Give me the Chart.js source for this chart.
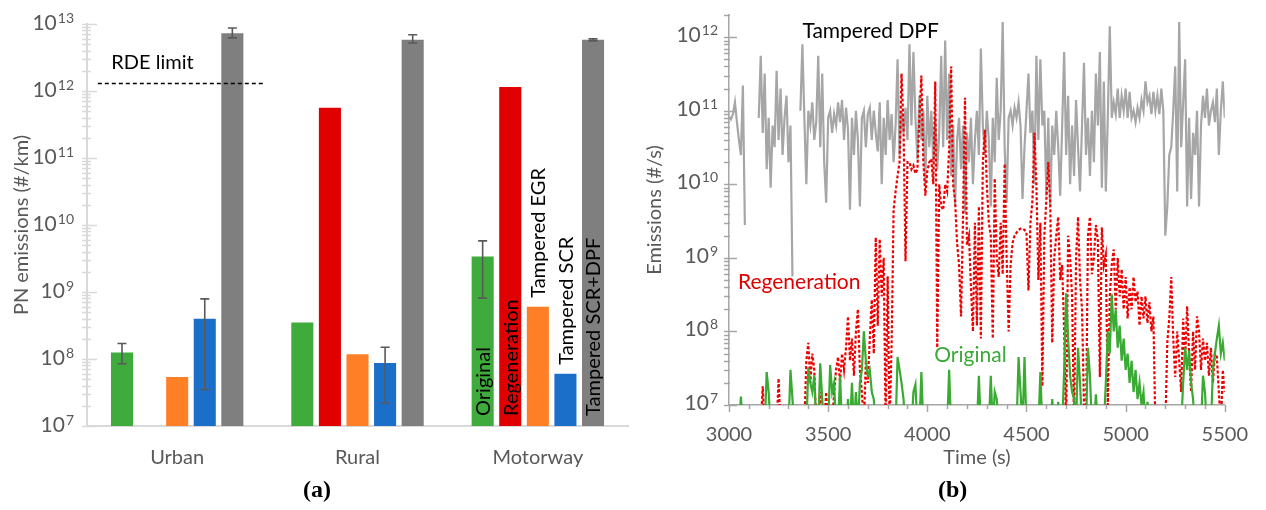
<!DOCTYPE html>
<html><head><meta charset="utf-8">
<script src="https://cdn.jsdelivr.net/npm/chart.js@4.4.1/dist/chart.umd.min.js"></script>
<style>
html,body{margin:0;padding:0;background:#fff;width:1266px;height:510px;overflow:hidden;position:relative;}
#wa{position:absolute;left:0;top:0;width:632px;height:510px;}
#wb{position:absolute;left:632px;top:0;width:634px;height:510px;}
.lab{position:absolute;top:475px;font:bold 24px "Liberation Serif","DejaVu Serif",serif;color:#000;line-height:28px;}
</style></head><body>
<div id="wa"><canvas id="ca"></canvas></div>
<div id="wb"><canvas id="cb"></canvas></div>
<div class="lab" style="left:303px">(a)</div>
<div class="lab" style="left:938px">(b)</div>
<script>
// ---------- Panel (a) data ----------
const regions = ['Urban', 'Rural', 'Motorway'];
const original       = [1.25e8, 3.5e8, 3.4e9];
const regeneration   = [null, 5.6e11, 1.15e12];
const tamperedEGR    = [5.4e7, 1.18e8, 6.0e8];
const tamperedSCR    = [4.0e8, 8.7e7, 6.0e7];
const tamperedSCRDPF = [7.3e12, 5.8e12, 5.8e12];
const originalLow  = [8.5e7, null, 8.1e8];
const originalHigh = [1.7e8, null, 5.8e9];
const scrLow  = [3.5e7, 2.2e7, null];
const scrHigh = [7.9e8, 1.5e8, null];
const scrDpfLow  = [6.2e12, 5.2e12, 5.6e12];
const scrDpfHigh = [8.7e12, 6.9e12, 6.0e12];
const rdeLimit = 1.3e12;
const seriesNamesA = ['Original', 'Regeneration', 'Tampered EGR', 'Tampered SCR', 'Tampered SCR+DPF'];
const yTickExpA = ['7', '8', '9', '10', '11', '12', '13'];

// ---------- Panel (b) data (sampled every 10 s from 3000 s) ----------
const tStart = 3000, tStep = 10;
const tamperedDPF = [
8.3e10,7.6e10,9e10,1.3e11,7e10,4e10,2.5e10,2.2e11,2.8e9,null,
null,null,null,null,null,8e10,5.6e11,5e10,3.2e11,1.6e10,
8e10,9e9,6.3e10,3.2e10,3.5e11,4e10,2e11,2.5e10,8e10,1.6e11,
2e10,6.3e10,5.6e8,null,null,null,1e11,8e11,8e10,1e10,
1e11,6.3e10,1.3e11,4e10,7e10,5.6e11,3.2e10,3.2e11,2e10,5.6e9,
8e10,1e11,5e10,9e10,6.3e10,1.3e11,7e10,1.4e11,4e10,1.1e11,
5.6e10,4.5e9,8e10,2.5e10,1e11,4e10,5e9,8e10,1e11,3.2e10,
9e10,1.1e11,4e10,1e11,5e10,2.8e10,1.3e11,1e10,8e10,2.5e10,
1.4e11,4e10,9e10,2e10,6.3e10,5e11,2.5e10,1e11,5e10,1.1e11,
4e10,8e11,6.3e10,6.3e11,8e10,2.2e10,1.6e11,4e10,1e11,1e10,
1.6e11,3.2e10,1e11,2e10,8e10,1.6e10,5e10,5.6e11,3.2e10,9e11,
4e10,3.2e11,1.3e10,6.3e10,5e9,4e10,8e10,1.6e10,6.3e10,4e9,
5e10,2e10,8e10,1e10,4e10,1e11,2.5e10,7e11,6.3e10,2.5e10,
1e11,4e10,5e9,8e10,2e10,2.8e11,4e10,1e11,1.6e12,3.2e10,
5.6e9,8e10,1e11,6.3e10,1.1e11,8e10,1.3e11,6.3e10,6.3e9,3.2e10,
1e11,3.2e11,5e10,1e11,1e10,5.6e11,4e10,5e11,6.3e10,1e11,
7e9,8e10,5e9,6.3e10,2.5e10,1e11,3.2e10,7e9,6.3e10,6.3e11,
2.5e10,1.6e11,1e10,6.3e10,1.3e10,1.4e11,3.2e10,8e9,6.3e10,4.5e11,
2.5e10,8e10,1.3e10,1e11,2e10,3.2e11,6.3e10,6.3e11,9e9,2.5e11,
8e9,8e10,1.4e12,8e10,1.3e11,9e10,2e11,8e10,1.6e11,1e11,
2e11,8e10,1.8e11,8e10,1e11,7e10,1.1e11,8e10,1.4e11,1e11,
2.5e11,1.3e11,1.6e11,9e10,1.8e11,1e11,1.6e11,9e10,2e11,1e11,
2e9,5e9,2.5e10,3.2e10,1e11,4e11,8e9,1.6e12,3.2e10,1.3e11,
5e11,5e9,8e10,6.3e9,5e10,2.5e10,1e11,5e9,6.3e10,1.6e11,
8e10,2e11,6.3e10,1e11,1.3e11,7e10,2e11,2.5e10,1e11,2.5e11,
8e10];
const regenerationTs = [
5e6,5e6,5e6,5e6,5e6,5e6,5e6,5e6,5e6,5e6,
5e6,5e6,5e6,5e6,5e6,5e6,5e6,1.8e7,5e6,5e6,
5e6,5e6,5e6,5e6,5e6,2.3e7,5e6,5e6,5e6,5e6,
5e6,5e6,5e6,5e6,5e6,5e6,5e6,5e6,5e6,4e7,
7e7,2e7,5e7,3e7,5e6,5e6,1.5e7,5e6,5e6,1.5e7,
5e6,5e6,5e6,1.5e7,3e7,4.5e7,2e7,5e7,3e7,6e7,
1.6e8,4e7,8e7,2.5e7,1e8,2e8,3e7,1.5e7,5e6,4e7,
2e7,8e7,2.7e8,5e7,1.9e9,1.2e8,1.8e9,3e8,1e9,5e6,
5.6e8,5e6,7e7,4.5e9,8e9,1.3e10,2e10,3.2e11,6e10,9e8,
2e10,2e10,1.6e10,1.8e10,1.4e10,1.6e10,8e10,3e11,2e10,7e9,
1.5e10,2e10,2.2e10,1e10,2.5e11,6e7,1e10,5e9,4.5e9,1e10,
8e9,3e10,4e11,1e10,6e9,1.6e9,8e8,1.6e8,3.6e9,1.5e11,
1.5e9,2e9,4e8,1e8,3e9,1.2e8,5e9,8e7,2e10,5.5e10,
1e10,3e9,2e9,8e7,1.2e10,1e9,5.5e8,3e9,6e8,1.9e10,
1e9,1e8,8e8,1.6e9,2e9,2.2e9,2.4e9,2.5e9,2.5e9,2.4e9,
2.2e9,3.6e8,3e9,6e9,5e10,1e10,5e8,3e9,1.8e7,2e9,
6e9,2e10,5e9,7e7,1e9,2e9,3.6e9,5e8,8e8,1e8,
5e6,2e9,1e9,3e8,5e6,1e9,3.6e9,5e8,2e8,1e7,
5e6,2e9,3.6e9,6e8,1e9,2.8e9,1.7e9,2.4e7,2.6e9,8e8,
1.1e9,1e7,3e8,8e8,1.3e9,2e8,1e9,3e8,7e8,2e8,
5.5e8,1.5e8,4e8,2e8,5.5e8,2.5e8,3.5e8,1.2e8,3e8,1.5e8,
3e8,1.3e8,2.5e8,1e8,1.6e8,5e6,5e6,5e6,5e6,5e6,
5e6,7e7,1.5e8,5.5e8,8e7,2.4e7,1e8,4e7,1.5e7,1.5e8,
4e7,2.2e8,5e7,1.5e7,1e8,3e7,1.6e8,1e8,3e7,8e7,
4e7,7e7,2.5e7,6e7,2e7,5e7,4.5e7,1.5e7,5e6,3e7,
1.5e7];
const originalTs = [
5e6,5e6,5e6,5e6,5e6,5e6,1.3e7,5e6,5e6,5e6,
5e6,5e6,5e6,5e6,5e6,5e6,5e6,5e6,5e6,2.8e7,
1.5e7,5e6,5e6,5e6,5e6,5e6,5e6,5e6,5e6,5e6,
5e6,3e7,1.2e7,5e6,5e6,5e6,5e6,5e6,5e6,5e6,
3.2e7,2e7,1.5e7,2.5e7,5e6,5e6,3.7e7,1.2e7,5e6,5e6,
5e6,3.5e7,1.5e7,2e7,5e6,5e6,2.5e7,5e6,5e6,5e6,
1.2e7,5e6,2e7,5e6,1.5e7,5e6,2e7,3e7,1e8,4e7,
2.5e7,3e7,1.5e7,1.2e7,5e6,5e6,5e6,5e6,5e6,5e6,
5e6,5e6,5e6,5e6,5e6,4.5e7,3e7,2e7,1.2e7,5e6,
5e6,5e6,5e6,1.5e7,1.9e7,5e6,5e6,2.8e7,5e6,5e6,
5e6,5e6,5e6,5e6,5e6,5e6,5e6,5e6,5e6,5e6,
5e6,3e7,5e6,5e6,5e6,5e6,5e6,5e6,5e6,5e6,
5e6,5e6,5e6,5e6,5e6,5e6,2.5e7,5e6,5e6,5e6,
5e6,5e6,2.5e7,5e6,1.5e7,1.2e7,5e6,5e6,5e6,5e6,
5e6,5e6,5e6,5e6,5e6,5e6,4.5e7,1.5e7,5e6,4.5e7,
5e6,5e6,5e6,5e6,5e6,5e6,5e6,2.8e7,5e6,5e6,
5e6,5e6,5e6,1.2e7,5e6,5e6,1.1e7,5e6,5e6,3e7,
3.3e8,8e7,2.5e7,1.5e7,1.2e7,5e6,6e7,2e7,5e6,5e6,
5e6,6e7,2.5e7,5e6,5e6,1.4e7,5e6,5e6,5e6,5e6,
2e7,1e8,5e7,3.2e8,1e8,2e8,6e7,1.2e8,4e7,8e7,
3e7,5e7,2e7,4e7,1.5e7,3e7,1.2e7,2e7,1e7,1.5e7,
5e6,1.1e7,5e6,5e6,5e6,5e6,5e6,5e6,5e6,5e6,
5e6,5e6,5e6,5e6,5e6,5e6,5e6,5e6,5e6,2e7,
6e7,3e7,5.5e7,2e7,1.2e7,5e6,5e6,5e6,5e6,2.5e7,
1.5e7,5e6,5e6,5e6,3e7,5e7,8e7,1.2e8,5e7,7e7,
4e7];
const xTickValuesB = [3000, 3500, 4000, 4500, 5000, 5500];
const xTickLabelsB = ['3000', '3500', '4000', '4500', '5000', '5500'];
const yTickExpB = ['7', '8', '9', '10', '11', '12'];

// ---------- helpers ----------
const FONT = 'Lato';
const TXT = '#595959';
const isPow10 = v => Math.abs(Math.log10(v) - Math.round(Math.log10(v))) < 1e-9;
function logTicks(scale, e0, e1, top) {
  const t = [];
  for (let e = e0; e <= e1; e++) for (let m = 1; m <= 9; m++) {
    const v = m * Math.pow(10, e);
    if (v <= top * 1.0000001) t.push({value: v});
  }
  scale.ticks = t;
}
const toPoints = arr => arr.map((v, i) => ({x: tStart + i * tStep, y: v}));

const tickMarks = {
  id: 'tickMarks',
  afterDraw(chart, args, o) {
    const ctx = chart.ctx, y = chart.scales.y, x = chart.scales.x;
    ctx.save();
    ctx.strokeStyle = o.color; ctx.lineWidth = o.width;
    const ax = y.right;
    y.ticks.forEach(t => {
      const p = Math.round(y.getPixelForValue(t.value)) + 0.5;
      const maj = isPow10(t.value);
      ctx.beginPath(); ctx.moveTo(ax - o.yOut, p); ctx.lineTo(ax + (maj ? o.yMajIn : o.yMinIn), p); ctx.stroke();
      if (maj) {
        // "10" with a raised exponent
        const ex = o.exps[Math.round(Math.log10(t.value)) - 7];
        const right = ax - o.labelGap;
        ctx.fillStyle = TXT; ctx.textBaseline = 'alphabetic'; ctx.textAlign = 'right';
        ctx.font = o.expSize + 'px ' + FONT;
        const ew = ctx.measureText(ex).width;
        ctx.fillText(ex, right, p + o.baseShift - o.expRaise);
        ctx.font = o.baseSize + 'px ' + FONT;
        ctx.fillText('10', right - ew - 1, p + o.baseShift);
      }
    });
    if (o.xTicks) {
      const ay = x.top;
      x.ticks.forEach(t => {
        const p = Math.round(x.getPixelForValue(t.value)) + 0.5;
        const maj = xTickValuesB.includes(t.value);
        ctx.beginPath(); ctx.moveTo(p, ay); ctx.lineTo(p, ay + (maj ? o.xMaj : o.xMin)); ctx.stroke();
      });
    }
    ctx.restore();
  }
};

const barExtras = {
  id: 'barExtras',
  afterDatasetsDraw(chart) {
    const {ctx, scales: {x, y}} = chart;
    ctx.save();
    ctx.strokeStyle = '#595959'; ctx.lineWidth = 1.6;
    [[0, originalLow, originalHigh], [3, scrLow, scrHigh], [4, scrDpfLow, scrDpfHigh]].forEach(([di, lo, hi]) => {
      const meta = chart.getDatasetMeta(di);
      lo.forEach((l, i) => {
        if (l == null) return;
        const bx = meta.data[i].x, y1 = y.getPixelForValue(l), y2 = y.getPixelForValue(hi[i]);
        ctx.beginPath();
        ctx.moveTo(bx, y1); ctx.lineTo(bx, y2);
        ctx.moveTo(bx - 4.5, y1); ctx.lineTo(bx + 4.5, y1);
        ctx.moveTo(bx - 4.5, y2); ctx.lineTo(bx + 4.5, y2);
        ctx.stroke();
      });
    });
    const step = x.getPixelForValue(1) - x.getPixelForValue(0);
    const x0 = x.getPixelForValue(0);
    const yr = Math.round(y.getPixelForValue(rdeLimit)) + 0.5;
    ctx.strokeStyle = '#000'; ctx.lineWidth = 1.3; ctx.setLineDash([4, 3]);
    ctx.beginPath(); ctx.moveTo(x0 - 0.44 * step, yr); ctx.lineTo(x0 + 0.49 * step, yr); ctx.stroke();
    ctx.setLineDash([]);
    ctx.fillStyle = '#000'; ctx.font = '20px ' + FONT; ctx.textBaseline = 'middle'; ctx.textAlign = 'left';
    ctx.fillText('RDE limit', x0 - 0.365 * step, y.getPixelForValue(2.7e12));
    const placement = ['base', 'base', 'top', 'top', 'base'];
    const yBase = y.getPixelForValue(1e7);
    seriesNamesA.forEach((name, di) => {
      const bar = chart.getDatasetMeta(di).data[2];
      const sy = placement[di] === 'base' ? yBase - 10 : bar.y - 9;
      ctx.save();
      ctx.translate(bar.x + 1, sy);
      ctx.rotate(-Math.PI / 2);
      ctx.fillStyle = '#000'; ctx.font = '20px ' + FONT; ctx.textAlign = 'left'; ctx.textBaseline = 'middle';
      ctx.fillText(name, 0, 0);
      ctx.restore();
    });
    ctx.restore();
  }
};

const seriesTextB = {
  id: 'seriesTextB',
  afterDatasetsDraw(chart) {
    const {ctx, scales: {x, y}} = chart;
    ctx.save();
    ctx.font = '21px ' + FONT; ctx.textAlign = 'left'; ctx.textBaseline = 'middle';
    [['Tampered DPF', '#000', 3370, 1.2e12], ['Regeneration', '#e00000', 3045, 4.6e8], ['Original', '#3aa935', 4035, 4.8e7]].forEach(([t, c, tx, v]) => {
      ctx.fillStyle = c;
      ctx.fillText(t, x.getPixelForValue(tx), y.getPixelForValue(v));
    });
    ctx.restore();
  }
};

// ---------- Chart (a) ----------
new Chart(document.getElementById('ca'), {
  type: 'bar',
  data: {
    labels: regions,
    datasets: [
      {label: seriesNamesA[0], data: original, backgroundColor: '#3fab3c'},
      {label: seriesNamesA[1], data: regeneration, backgroundColor: '#e00000'},
      {label: seriesNamesA[2], data: tamperedEGR, backgroundColor: '#ff7f27'},
      {label: seriesNamesA[3], data: tamperedSCR, backgroundColor: '#1b6fc9'},
      {label: seriesNamesA[4], data: tamperedSCRDPF, backgroundColor: '#7f7f7f'}
    ]
  },
  options: {
    responsive: true, maintainAspectRatio: false, animation: false, devicePixelRatio: 1,
    datasets: {bar: {categoryPercentage: 0.765, barPercentage: 0.8}},
    layout: {padding: {left: 0, right: 4, top: 24, bottom: 0}},
    plugins: {
      legend: {display: false}, tooltip: {enabled: false},
      tickMarks: {color: '#d9d9d9', width: 1.5, yOut: 5, yMinIn: 4, yMajIn: 10, xTicks: false,
        exps: yTickExpA, labelGap: 13, baseSize: 21, expSize: 14, baseShift: 5, expRaise: 7}
    },
    scales: {
      x: {
        grid: {display: false, drawTicks: false},
        border: {color: '#d9d9d9', width: 2},
        ticks: {font: {family: FONT, size: 20}, color: TXT, padding: 20},
        afterFit(s) { s.height = 84; }
      },
      y: {
        type: 'logarithmic', min: 1e7, max: 1e13,
        grid: {display: false, drawTicks: false},
        border: {color: '#d9d9d9', width: 2},
        afterBuildTicks(s) { logTicks(s, 7, 13, 1e13); },
        ticks: {display: false, autoSkip: false},
        title: {display: true, text: 'PN emissions (#/km)', font: {family: FONT, size: 20}, color: TXT, padding: {top: 10, bottom: 0}},
        afterFit(s) { s.width = 87; }
      }
    }
  },
  plugins: [tickMarks, barExtras]
});

// ---------- Chart (b) ----------
new Chart(document.getElementById('cb'), {
  type: 'line',
  data: {
    datasets: [
      {label: 'Tampered DPF', data: toPoints(tamperedDPF), borderColor: '#a6a6a6', borderWidth: 2.2, pointRadius: 0, order: 3, spanGaps: false},
      {label: 'Regeneration', data: toPoints(regenerationTs), borderColor: '#ee0000', borderWidth: 2.2, borderDash: [3, 2], pointRadius: 0, order: 2},
      {label: 'Original', data: toPoints(originalTs), borderColor: '#3aab32', borderWidth: 2.2, pointRadius: 0, order: 1}
    ]
  },
  options: {
    responsive: true, maintainAspectRatio: false, animation: false, devicePixelRatio: 1,
    layout: {padding: {left: 0, right: 33, top: 15, bottom: 0}},
    plugins: {
      legend: {display: false}, tooltip: {enabled: false},
      tickMarks: {color: '#a6a6a6', width: 1.5, yOut: 5, yMinIn: 1, yMajIn: 8, xTicks: true, xMaj: 7, xMin: 4,
        exps: yTickExpB, labelGap: 11, baseSize: 21, expSize: 14, baseShift: 4, expRaise: 7}
    },
    elements: {line: {tension: 0}},
    scales: {
      x: {
        type: 'linear', min: 3000, max: 5500,
        grid: {display: false, drawTicks: false},
        border: {color: '#a6a6a6', width: 1.5},
        afterBuildTicks(s) { const t = []; for (let v = 3000; v <= 5500; v += 100) t.push({value: v}); s.ticks = t; },
        ticks: {
          autoSkip: false, maxRotation: 0, font: {family: FONT, size: 20}, color: TXT, padding: 18,
          callback(v) { const k = xTickValuesB.indexOf(v); return k >= 0 ? xTickLabelsB[k] : ''; }
        },
        title: {display: true, text: 'Time (s)', font: {family: FONT, size: 20}, color: TXT, padding: {top: 0, bottom: 40}},
        afterFit(s) { s.height = 105; }
      },
      y: {
        type: 'logarithmic', min: 1e7, max: 2e12,
        grid: {display: false, drawTicks: false},
        border: {color: '#a6a6a6', width: 1.5},
        afterBuildTicks(s) { logTicks(s, 7, 12, 2e12); },
        ticks: {display: false, autoSkip: false},
        title: {display: true, text: 'Emissions (#/s)', font: {family: FONT, size: 20}, color: TXT, padding: {top: 11, bottom: 0}},
        afterFit(s) { s.width = 97; }
      }
    }
  },
  plugins: [tickMarks, seriesTextB]
});
</script>
</body></html>
